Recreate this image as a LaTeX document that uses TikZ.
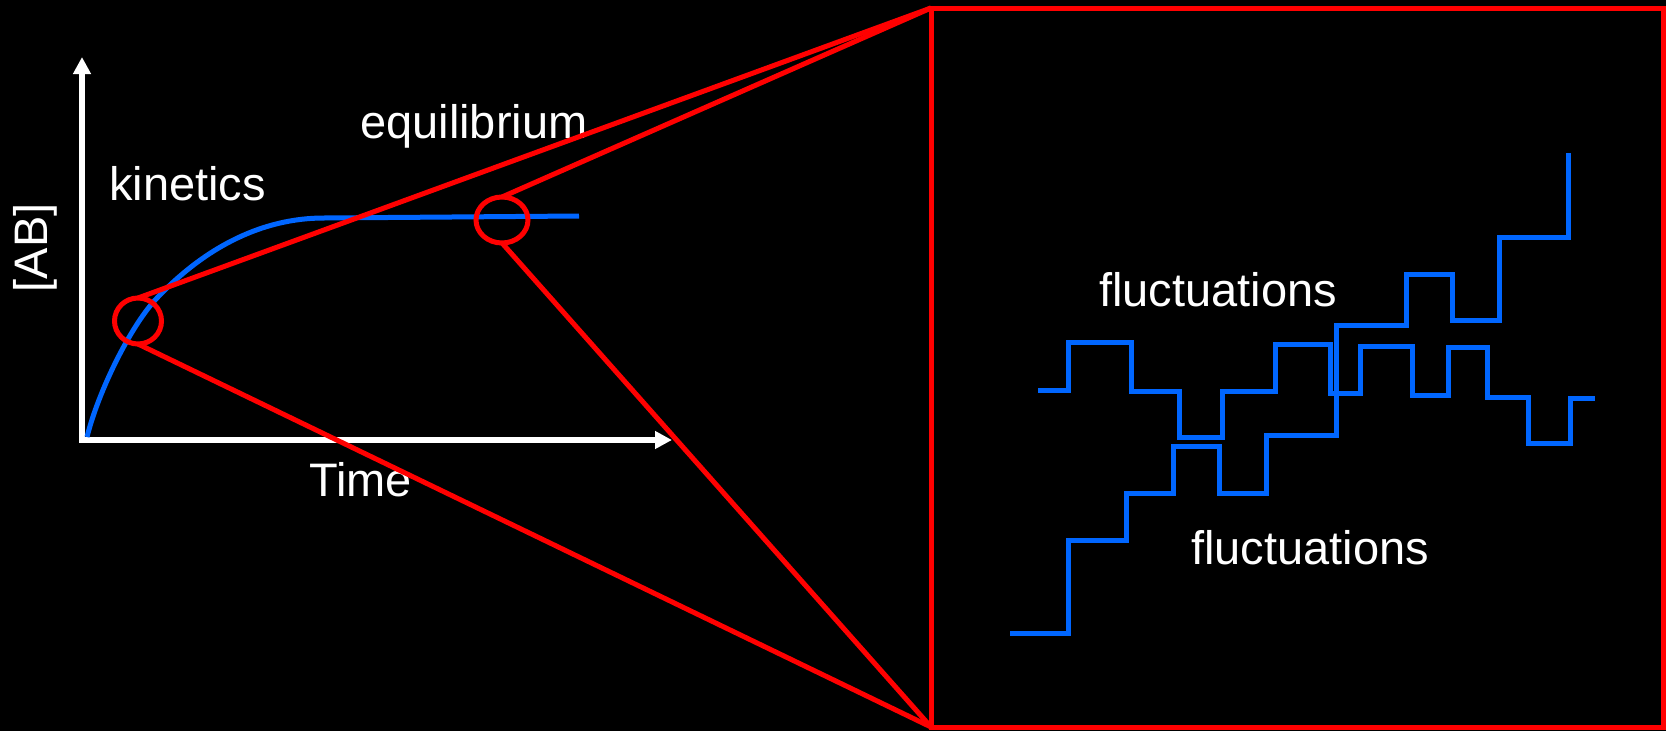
\documentclass[tikz,border=0pt]{standalone}
\usepackage{fontspec}
\setmainfont{Liberation Sans}
\usetikzlibrary{arrows.meta,shapes.geometric}
\definecolor{fblue}{RGB}{0,102,255}
\definecolor{fred}{RGB}{255,0,0}
\begin{document}
\begin{tikzpicture}[x=1pt,y=-1pt,
  lbl/.style={text=white,font=\fontsize{47}{56}\selectfont,inner sep=0pt,anchor=base west},
  zoomring/.style={ellipse,draw=fred,line width=5pt,inner sep=0pt,outer sep=0pt},
  redline/.style={draw=fred,line width=5pt},
  trace/.style={draw=fblue,line width=5pt},
  axisline/.style={draw=white,line width=5.5pt,{Triangle[length=17pt,width=17pt]}-{Triangle[length=17pt,width=17pt]}}]
\fill[black] (0,0) rectangle (1666,731);
\useasboundingbox (0,0) rectangle (1666,731);

% axes
\coordinate (o) at (82,440);
\coordinate (ytip) at (82,57);
\coordinate (xtip) at (672,440);
\draw[axisline] (ytip) -- (o) -- (xtip);

% kinetics curve
\draw[trace] (87,437) .. controls (99,389) and (132,324) .. (157,298)
  .. controls (207,245.5) and (264,218) .. (324,218) -- (579,216);

% labels
\node[lbl] (equ) at (360,138) {equilibrium};
\node[lbl] (kin) at (109,200) {kinetics};
\node[lbl] (time) at (309,496) {Time};
\node[text=white,font=\fontsize{47}{56}\selectfont,inner sep=0pt,rotate=90] (ab) at (35,248) {[AB]};
\node[lbl] (fl1) at (1099,306) {fluctuations};
\node[lbl] (fl2) at (1191,564) {fluctuations};

% fluctuation traces
\draw[trace] (1038,390) -- (1068,390) -- (1068,342) -- (1131,342) -- (1131,391) -- (1179,391)
  -- (1179,437) -- (1222,437) -- (1222,391) -- (1275,391) -- (1275,344) -- (1330,344)
  -- (1330,393) -- (1360,393) -- (1360,346) -- (1412,346) -- (1412,395) -- (1448,395)
  -- (1448,347) -- (1487,347) -- (1487,397) -- (1528,397) -- (1528,443) -- (1570,443)
  -- (1570,398) -- (1595,398);
\draw[trace] (1010,633) -- (1068,633) -- (1068,540) -- (1126,540) -- (1126,493) -- (1173,493)
  -- (1173,446) -- (1219,446) -- (1219,493) -- (1266,493) -- (1266,435) -- (1336,435)
  -- (1336,325) -- (1406,325) -- (1406,274) -- (1452,274) -- (1452,320) -- (1499,320)
  -- (1499,237) -- (1568,237) -- (1568,153);

% zoom box and rings
\node[draw=fred,line width=5pt,minimum width=732pt,minimum height=719pt,inner sep=0pt,outer sep=0pt] (box) at (1297,367.5) {};
\node[zoomring,minimum width=47pt,minimum height=46pt] (c1) at (138,321) {};
\node[zoomring,minimum width=52pt,minimum height=46pt] (c2) at (502,220) {};

\draw[redline] (c1.north) -- (box.north west);
\draw[redline] (c1.south) -- (box.south west);
\draw[redline] (c2.north) -- (box.north west);
\draw[redline] (c2.south) -- (box.south west);
\end{tikzpicture}
\end{document}
